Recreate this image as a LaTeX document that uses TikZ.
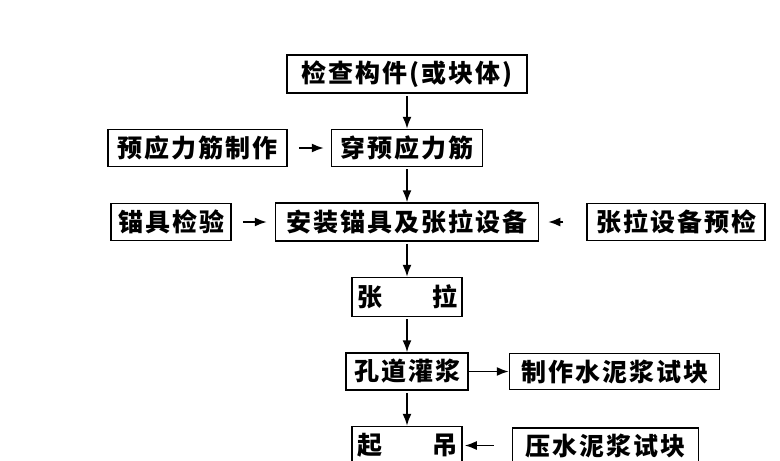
\documentclass[tikz,border=0pt]{standalone}
\usepackage{fontspec}
\newfontfamily\cjk[LetterSpace=8]{Noto Sans CJK SC}
\usetikzlibrary{arrows.meta,positioning}

\begin{document}
\begin{tikzpicture}[
    x=1pt, y=1pt,
    block/.style={rectangle, draw, line width=1.5pt, inner sep=2pt, minimum height=37pt, text centered,
        font=\fontsize{25pt}{25pt}\selectfont\cjk\bfseries},
    line/.style={draw, line width=1.6pt, -{Latex[length=12pt,width=9pt]}},
    node distance=35pt
]
    \useasboundingbox (0,0) rectangle (780,-461);

    % Main process
    \node [block, minimum width=240pt, minimum height=38pt] (check) at (407,-74) {检查构件(或块体)};
    \node [block, minimum width=151pt, below=of check] (thread) {穿预应力筋};
    \node [block, minimum width=263pt, minimum height=38pt, below=of thread] (install) {安装锚具及张拉设备};
    \node [block, minimum width=110pt, minimum height=39pt, below=of install] (tension) {张\qquad 拉};
    \node [block, minimum width=122pt, below=of tension] (grout) {孔道灌浆};
    \node [block, minimum width=110pt, minimum height=38pt, below=of grout] (lift) {起\qquad 吊};

    % Side work
    \node [block, minimum width=179pt, left=43pt of thread] (tendon) {预应力筋制作};
    \node [block, minimum width=120pt, left=43pt of install] (anchor) {锚具检验};
    \node [block, minimum width=178pt, right=47pt of install] (precheck) {张拉设备预检};
    \node [block, minimum width=210pt, minimum height=36pt, right=40pt of grout] (sample) {制作水泥浆试块};
    \node [block, minimum width=186pt, minimum height=35pt, right=49pt of lift] (press) {压水泥浆试块};

    % Connections
    \path [line, shorten <=2pt] (check) -- (thread);
    \path [line, shorten <=2pt] (thread) -- (install);
    \path [line, shorten <=2pt] (install) -- (tension);
    \path [line, shorten <=2pt] (tension) -- (grout);
    \path [line, shorten <=2pt] (grout) -- (lift);
    \path [line, shorten <=11pt, shorten >=7pt] (tendon) -- (thread);
    \path [line, shorten <=11pt, shorten >=8pt] (anchor) -- (install);
    \path [line, shorten <=23pt, shorten >=9pt] (precheck) -- (install);
    \path [line] (grout) -- (sample);
    \path [line, shorten <=18pt, shorten >=2pt] (press) -- (lift);

\end{tikzpicture}
\end{document}
